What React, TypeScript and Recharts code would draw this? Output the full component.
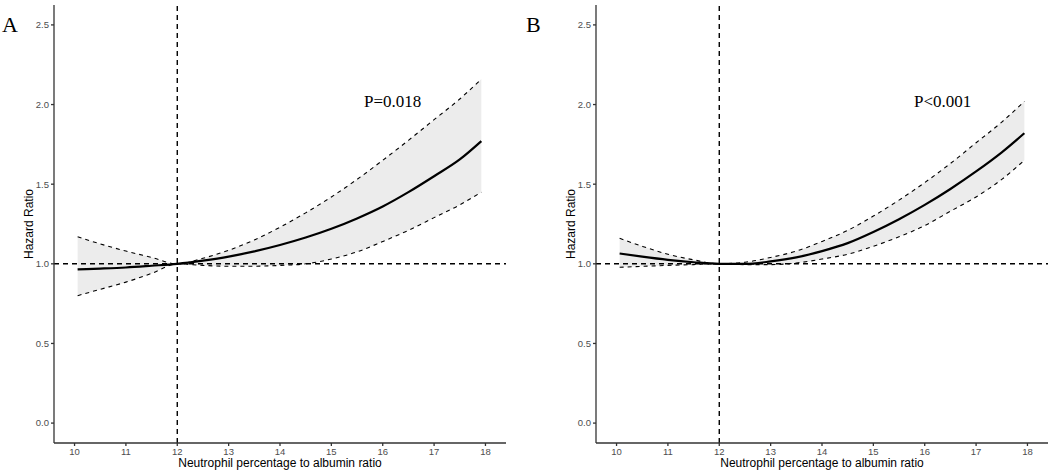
import React from "react";
import {
  ComposedChart,
  Area,
  Line,
  XAxis,
  YAxis,
  ReferenceLine,
} from "recharts";

// Restricted cubic spline estimates
const xA = [10.06, 10.5, 11, 11.5, 12, 12.5, 13, 13.5, 14, 14.5, 15, 15.5, 16, 16.5, 17, 17.5, 17.92];
const hrA = [0.965, 0.97, 0.977, 0.988, 1.0, 1.02, 1.045, 1.078, 1.118, 1.165, 1.22, 1.285, 1.36, 1.45, 1.55, 1.655, 1.77];
const upperA = [1.17, 1.125, 1.08, 1.04, 1.0, 1.035, 1.085, 1.15, 1.23, 1.32, 1.42, 1.53, 1.65, 1.775, 1.905, 2.035, 2.16];
const lowerA = [0.8, 0.84, 0.885, 0.94, 1.0, 0.99, 0.985, 0.985, 0.99, 1.0, 1.03, 1.075, 1.14, 1.21, 1.29, 1.37, 1.45];

const xB = [10.06, 10.5, 11, 11.5, 12, 12.5, 13, 13.5, 14, 14.5, 15, 15.5, 16, 16.5, 17, 17.5, 17.94];
const hrB = [1.065, 1.045, 1.025, 1.01, 1.0, 1.0, 1.015, 1.04, 1.08, 1.13, 1.2, 1.28, 1.37, 1.47, 1.58, 1.7, 1.82];
const upperB = [1.16, 1.11, 1.06, 1.025, 1.0, 1.01, 1.04, 1.08, 1.14, 1.21, 1.3, 1.4, 1.51, 1.63, 1.76, 1.89, 2.02];
const lowerB = [0.978, 0.984, 0.99, 0.995, 1.0, 0.995, 0.995, 1.005, 1.03, 1.06, 1.11, 1.17, 1.24, 1.33, 1.42, 1.53, 1.65];

const xTicks = [10, 11, 12, 13, 14, 15, 16, 17, 18];
const yTicks = [0, 0.5, 1, 1.5, 2, 2.5];

const build = (xs: number[], hr: number[], lo: number[], hi: number[]) =>
  xs.map((x, i) => ({ x, hr: hr[i], lower: lo[i], upper: hi[i], band: [lo[i], hi[i]] }));

const dataA = build(xA, hrA, lowerA, upperA);
const dataB = build(xB, hrB, lowerB, upperB);

const AXIS = "#333333";
const TICK = { fontSize: 9.5, fill: "#4d4d4d", fontFamily: "Liberation Sans, Arial, sans-serif" };
const LABEL = { fontSize: 12, fill: "#000", fontFamily: "Liberation Sans, Arial, sans-serif" };
const serif = "Liberation Serif, Times New Roman, serif";

function Panel({ data, width, marginRight }: { data: any[]; width: number; marginRight: number }) {
  return (
    <ComposedChart
      width={width}
      height={474}
      data={data}
      margin={{ top: 5, right: marginRight, bottom: 0, left: 0 }}
    >
      <XAxis
        dataKey="x"
        type="number"
        domain={[9.6, 18.4]}
        ticks={xTicks}
        allowDataOverflow
        height={31}
        tickSize={3}
        tickMargin={2}
        stroke={AXIS}
        strokeWidth={1.3}
        tick={TICK}
        tickLine={{ stroke: AXIS }}
        label={{ value: "Neutrophil percentage to albumin ratio", position: "insideBottom", offset: 7, style: LABEL }}
      />
      <YAxis
        type="number"
        domain={[-0.125, 2.625]}
        ticks={yTicks}
        allowDataOverflow
        width={54}
        tickSize={3}
        tickMargin={2}
        stroke={AXIS}
        strokeWidth={1.3}
        tick={TICK}
        tickLine={{ stroke: AXIS }}
        tickFormatter={(v: number) => v.toFixed(1)}
        label={{ value: "Hazard Ratio", angle: -90, position: "insideLeft", offset: 29, style: { ...LABEL, textAnchor: "middle" } }}
      />
      <Area
        type="monotone"
        dataKey="band"
        stroke="none"
        fill="#ececec"
        fillOpacity={1}
        isAnimationActive={false}
      />
      <Line type="monotone" dataKey="upper" stroke="#000" strokeWidth={1.1} strokeDasharray="4 4" dot={false} isAnimationActive={false} />
      <Line type="monotone" dataKey="lower" stroke="#000" strokeWidth={1.1} strokeDasharray="4 4" dot={false} isAnimationActive={false} />
      <Line type="monotone" dataKey="hr" stroke="#000" strokeWidth={2.2} dot={false} isAnimationActive={false} />
      <ReferenceLine y={1} stroke="#000" strokeWidth={1.4} strokeDasharray="5 4" />
      <ReferenceLine x={12} stroke="#000" strokeWidth={1.4} strokeDasharray="5 4" />
    </ComposedChart>
  );
}

export default function App() {
  return (
    <div style={{ position: "absolute", left: 0, top: 0, width: 1053, height: 474, background: "#fff" }}>
      <div style={{ position: "absolute", left: 0, top: 0 }}>
        <Panel data={dataA} width={520} marginRight={14} />
      </div>
      <div style={{ position: "absolute", left: 542, top: 0 }}>
        <Panel data={dataB} width={511} marginRight={5} />
      </div>
      <div style={{ position: "absolute", left: 2, top: 12, fontFamily: serif, fontSize: 22 }}>A</div>
      <div style={{ position: "absolute", left: 526, top: 12, fontFamily: serif, fontSize: 22 }}>B</div>
      <div style={{ position: "absolute", left: 364, top: 92, fontFamily: serif, fontSize: 17 }}>P=0.018</div>
      <div style={{ position: "absolute", left: 914, top: 92, fontFamily: serif, fontSize: 17 }}>P&lt;0.001</div>
    </div>
  );
}
